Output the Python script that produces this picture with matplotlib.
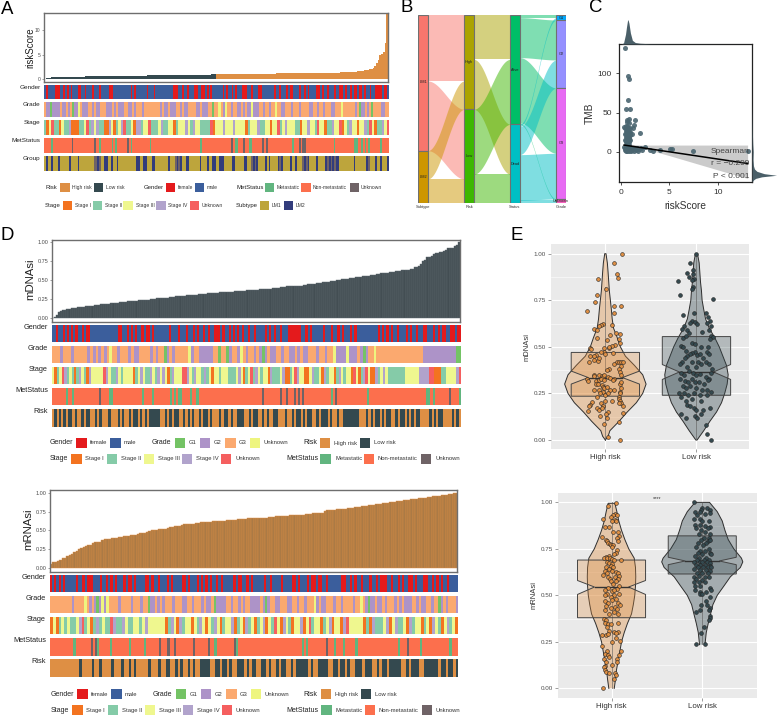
import numpy as np
import matplotlib
matplotlib.use("Agg")
import matplotlib.pyplot as plt
from matplotlib.colors import to_rgb
from matplotlib.patches import Rectangle, Polygon

plt.rcParams['font.family'] = ['Liberation Sans', 'DejaVu Sans']

W, H = 777, 717
ORANGE = '#DE8F44'
SLATE = '#34494F'

# panel A bars
risk_score_low = [.06,.15,.25,.3,.33,.35,.37,.38,.4,.41,.42,.43,.44,.45,.46,.46,.47,.48,.49,.5,
                  .5,.51,.52,.52,.53,.54,.54,.55,.56,.56,.57,.57,.58,.59,.59,.6,.6,.61,.61,.62,
                  .63,.63,.64,.64,.65,.65,.66,.66,.67,.67,.68,.68,.69,.69,.7,.7,.71,.71,.72,.72,
                  .73,.73,.74,.74,.75,.75,.76,.76,.77,.77,.78,.78,.79,.79,.8,.8,.81,.81,.82,.82,
                  .83,.83,.84,.85,.85,.86,.86,.87,.87,.88,.88,.89,.9,.9,.91,.92,.93,.94,.95,.96]
risk_score_high = [.97,.97,.98,.98,.99,.99,1,1,1,1.01,1.01,1.02,1.02,1.03,1.03,1.04,1.04,1.05,1.05,1.06,
                   1.06,1.07,1.07,1.08,1.08,1.09,1.09,1.1,1.1,1.11,1.11,1.12,1.12,1.13,1.13,1.14,1.14,1.15,1.15,1.16,
                   1.16,1.17,1.17,1.18,1.18,1.19,1.19,1.2,1.2,1.21,1.21,1.22,1.22,1.23,1.23,1.24,1.25,1.25,1.26,1.26,
                   1.27,1.27,1.28,1.29,1.29,1.3,1.31,1.31,1.32,1.33,1.33,1.34,1.35,1.35,1.36,1.37,1.38,1.39,1.4,
                   1.42,1.45,1.5,1.55,1.6,1.65,1.7,1.78,1.85,1.95,2.05,2.15,2.3,2.7,3.2,3.9,4.9,5.2,5.5,7.4,13.3]

# panel D bars
mdnasi = [0,.01,.04,.08,.09,.10,.11,.12,.125,.13,.13,.135,.14,.145,.15,.15,.155,.16,.16,.165,
          .17,.17,.175,.18,.18,.185,.19,.19,.195,.20,.20,.205,.21,.21,.215,.215,.22,.22,.225,.23,
          .23,.235,.235,.24,.24,.245,.245,.25,.25,.255,.26,.26,.265,.265,.27,.27,.275,.275,.28,.285,
          .285,.29,.29,.295,.30,.30,.305,.305,.31,.31,.315,.315,.32,.32,.325,.325,.33,.33,.335,.335,
          .34,.34,.345,.345,.35,.35,.35,.355,.355,.36,.36,.36,.36,.365,.365,.365,.37,.37,.375,.38,
          .38,.385,.385,.39,.39,.395,.395,.40,.40,.41,.415,.415,.42,.42,.42,.425,.425,.43,.43,.43,
          .435,.44,.445,.45,.45,.455,.46,.46,.465,.47,.47,.475,.48,.49,.49,.495,.50,.505,.51,.51,
          .515,.52,.525,.53,.535,.54,.54,.545,.55,.555,.56,.56,.565,.57,.575,.58,.585,.59,.595,.60,
          .60,.605,.61,.615,.62,.62,.625,.63,.635,.64,.64,.645,.65,.68,.68,.69,.72,.75,.77,.80,
          .81,.82,.84,.86,.86,.87,.87,.88,.90,.92,.92,.93,.95,.97,1.0]
mrnasi = [.05,.08,.08,.09,.11,.13,.14,.16,.18,.19,.21,.23,.25,.26,.28,.29,.30,.31,.33,.34,
          .345,.35,.37,.38,.385,.39,.395,.40,.405,.41,.415,.42,.425,.43,.44,.445,.445,.45,.46,.465,
          .47,.48,.49,.50,.51,.51,.515,.515,.52,.525,.53,.54,.55,.555,.56,.56,.57,.58,.585,.585,
          .59,.59,.595,.60,.605,.61,.61,.615,.615,.62,.625,.625,.63,.63,.63,.635,.635,.64,.64,.64,
          .645,.65,.65,.655,.66,.66,.66,.66,.665,.665,.67,.67,.67,.675,.68,.68,.685,.69,.69,.69,
          .695,.695,.70,.70,.70,.705,.705,.71,.71,.715,.72,.72,.725,.73,.73,.735,.735,.76,.765,.77,
          .775,.775,.78,.78,.785,.79,.79,.795,.80,.80,.805,.81,.81,.82,.825,.83,.835,.84,.84,.845,
          .85,.855,.86,.865,.87,.875,.875,.88,.885,.89,.895,.90,.90,.905,.91,.915,.92,.925,.93,.935,
          .935,.94,.945,.95,.955,.96,.96,.965,.97,.975,.98,.985,.99,1.0]

# heatmap tracks as runs: letter = category, number = columns
a_gender = "m1 f1 m4 f3 m2 f1 m1 f1 m1 f1 m3 f2 m2 f1 m3 f1 m3 f1 m5 f2 m10 f1 m1 f1 m6 f1 m3 f1 m10 f3 m2 f1 m2 f1 m3 f2 m2 f2 m1 f1 m1 f1 m6 f1 m1 f1 m2 f1 m1 f1 m3 f3 m2 f1 m3 f2 m7 f1 m2 f1 m3 f1 m1 f2 m3 f1 m2 f1 m1 f1 m4 f2 m1 f1 m2 f1 m3 f1 m2 f2 m1 f1 m2 f1 m1 f2 m1 f2 m1 f1 m2 f1 m2 f1 f3 m1 f2 m1"
a_grade = "r1 q2 p1 q4 r1 q2 r1 q1 r1 p1 q2 x1 r1 q3 r2 q1 r1 q2 r3 q3 r1 q1 r1 q2 q1 r2 q2 r1 q1 r3 q1 r8 q1 r1 q2 r1 q3 r2 q1 r1 q2 r4 q2 r1 q3 r2 p1 r2 x1 r1 q1 x1 r2 q1 r2 q2 r1 q1 r1 q2 x1 q3 r2 q1 r2 q1 r2 x1 r2 q2 r3 q1 r3 q1 r4 q2 r2 q1 r2 q1 r3 q2 r3 x1 r6 q1 r1 p1 q2 r1 q1 r1 p1 r4 q2 r2"
a_stage = "b1 a1 c1 x1 b2 a1 c1 b2 d1 a3 b2 c1 x1 b1 d1 c1 d1 b2 a2 d1 c1 a1 b1 c1 d1 x1 b2 c1 a1 d2 b1 c2 x1 b3 c1 d1 b2 c2 a1 b1 c3 d1 c1 b1 d1 c2 b4 x1 a1 c3 d1 c3 d1 c4 a1 b1 c3 d1 b2 c2 a1 c2 x1 b1 c1 d1 c3 b2 a1 c2 d1 c2 b1 x1 c2 a1 b2 d1 c2 x1 a1 c1 b1 d1 c2 a1 c2 d1 b1 x1 c1 a1 b2 d1 c1 x1"
a_met = "n4 e1 n11 u1 n12 u1 n2 e1 n6 e1 n1 e1 n6 u1 n1 e1 n10 e1 n28 e1 n17 u1 n1 e2 n3 u1 n2 e2 n6 u1 n1 u1 n14 e1 n3 u1 n1 u2 n16 e1 n11 e2 n2 e1 n1 e1 n1 e1 n6 e1 n4"
a_group = "a1 b1 a2 b1 a3 b1 a5 b1 a4 b1 a8 u2 b1 u1 a2 b2 a2 b1 a2 b1 a10 b2 a2 b2 a3 b2 a7 b1 a3 u1 b1 u1 b1 a2 b2 a6 b1 a3 b1 a2 b2 a2 b3 a4 b2 a5 b2 a2 u1 b1 u1 b1 a4 b1 a1 b1 a4 b1 u1 b1 a4 b1 a2 b1 a3 u1 b1 u1 b1 a4 b1 a4 b1 u1 b1 u1 b1 u1 b1 b1 a8 b1 a6 b1 u1 a3 b1 a2 b1 a3 b1"

d1_gender = "m2 f1 m2 f1 m1 f1 m1 f1 m1 f1 m2 f1 m1 f2 m13 f2 m2 f1 m1 f1 m1 f1 m2 f1 m1 f2 m1 f1 m7 f1 m3 f1 m3 f1 m2 f1 m1 f1 m2 f1 m1 f1 m2 f3 m1 f1 m2 f1 m1 f1 m1 f1 m1 f1 m2 f1 m2 f1 m4 f1 m1 f1 m1 f1 m2 f1 m3 f6 m2 f1 m1 f1 m5 f1 m3 f1 m2 f1 m1 f1 m3 f1 m1 f1 m10 f1 m1 f1 m1 f1 m1 f1 m2 f1 m3 f1 m1 f1 m2 f1 m2 f2 m3 f1 m1 f1 m1 f2 m2 f2 m1 f2"
d1_grade = "r3 q1 r3 q1 r5 q1 r1 q1 r1 q1 r1 q1 r1 x1 r2 q1 r3 q1 r1 q2 r4 q1 r1 q1 r2 p1 q1 r1 q1 r5 x1 q1 r2 q5 r2 p1 r2 p1 q1 r2 q1 x1 r1 q1 r2 q1 r1 q1 p1 q1 r1 q2 r2 q1 r2 q2 r1 q1 r1 q2 r3 q1 r2 q1 r2 x1 q4 x1 q3 r1 q1 p1 q1 r2 x1 r17 q12 p2"
d1_stage = "c1 a1 b1 c1 x1 d1 b1 c1 b1 a1 b1 d1 c1 b1 a1 d1 c5 x1 d1 c1 b2 d1 c1 b1 c4 a1 b1 c1 d1 c1 b2 d1 c1 b1 d1 c1 d1 c1 a1 b1 d1 c3 x2 d1 c1 b1 d1 c2 b1 d1 b1 c1 a1 c2 b1 c3 b3 c1 d1 c1 a1 b1 c1 x1 b1 d1 c1 b1 c2 a1 d1 b3 c1 d1 a2 b1 c1 x1 d1 c2 a2 c1 d1 b2 c1 a1 d1 b1 c2 a1 b1 d1 c1 b1 c2 a1 x1 c1 a1 b1 d1 x1 c1 a2 d1 b1 c1 d1 c1 b7 c6 d4 x2 a3 b2 c4 d1 x1"
d1_met = "n7 e1 n2 e1 n12 u1 n4 e2 n14 e1 n4 e1 n8 e1 n1 e1 n1 e2 n4 e1 n2 e1 n31 u1 n8 u1 n2 u1 n3 u1 n1 u1 n1 u1 n13 e1 n1 u1 n15 e1 n28 e2 n1 e1 n7 u1 n4 e1"
d1_risk = "h1 l1 h1 l1 h1 l1 h1 l2 h1 l1 h2 l1 h1 l2 h2 l1 h1 l1 h3 l1 h3 l1 h1 l1 h2 l1 h1 l2 h1 l1 h1 l1 h1 l5 h2 l1 h1 l1 h1 l2 h2 l1 h1 l1 h1 l1 h2 l1 h1 l2 h1 l1 h3 l1 h1 l2 h1 l1 h2 l3 h2 l1 h1 l2 h2 l1 h1 l1 h2 l2 h3 l1 h2 l1 h1 l2 h1 l1 h1 l2 h2 l1 h1 l3 h1 l1 h2 l1 h2 l7 h3 l1 h1 l1 h1 l2 h1 l1 h1 l2 h2 l1 h1 l2 h1 l1 h1 l1 h1 l2 h4 l1 h1 l1 h1 l2 h4 l1 h1 l1 h1"

d2_gender = "f1 m1 f1 m1 f1 m1 f1 m5 f1 m2 f1 m1 f3 m3 f1 m2 f1 m1 f1 m1 f1 m3 f1 m1 f2 m1 f1 m4 f2 m1 f1 m2 f1 m3 f1 m1 f1 m4 f2 m1 f1 m3 f1 m1 f1 m1 f1 m1 f1 m2 f1 m1 f1 m5 f1 m1 f2 m2 f1 m1 f1 m5 f1 m2 f1 m4 f1 m4 f2 m1 f1 m3 f1 m1 f2 m1 f2 m2 f1 m6 f2 m2 f1 m1 f1 m2 f1 m3 f1 m2 f1 m1 f3 m2 f1 m2 f1 m1 f1 m2 f2 m1 f1 m3 f2 m2 f1 m1 f1 m1 f1 m2 f1 m4"
d2_grade = "r9 q1 r4 x1 r1 q1 r1 q1 p1 q1 x1 q1 x1 r4 q1 r4 q1 r3 q1 r2 p1 q2 r1 q1 r1 q1 r3 q1 r3 q2 r2 q1 r3 q1 r1 q2 r1 p1 q4 r2 q1 r2 q1 r1 q1 r2 q4 r1 q1 p1 q1 r2 q2 r3 q2 r2 q1 r2 q1 r3 x1 q1 r1 q2 r3 q1 r2 q1 r4 q1 r2 x1 r1 q1 p1 q2 r1 q2 r1 q1 r3 q1 r1 q1 r1 q3 r2 q1 r1 q2 r2 q1 r2 p1 q1 r1 q1 r3 q1"
d2_stage = "a1 c1 a1 b1 c1 b1 c1 b2 c1 d1 x1 b1 c1 a1 b1 d1 b1 c1 b2 x1 d1 b2 d1 c1 b2 c2 b1 c1 d1 c6 a1 b1 d1 c1 a1 d1 b1 c2 a1 c1 b1 d1 c1 a1 c1 b1 d1 c1 a1 b1 c2 d1 a1 b1 c1 a1 d1 b1 c1 a1 b1 c1 d1 a1 c1 b1 x1 c1 a1 d1 c1 b1 a1 c2 d1 a1 c1 x1 b1 c2 a1 b1 c1 d1 a1 c2 a1 d1 x1 c5 a1 b1 a1 d1 b3 c1 d1 a1 c1 d1 b2 c1 a1 d1 b1 c2 a1 b1 c1 a1 d1 c1 b1 a1 c1 d1 b1 c1 a1"
d2_met = "n11 e1 n7 u1 n1 u1 e1 n5 e1 n8 e1 n6 e1 n6 u1 n3 u1 n2 u1 n8 u1 n6 u1 n2 e1 n8 u1 e1 n30 e1 n1 e1 n8 u1 n3 e1 n3 e1 n5 e1 n19 e1 n3 u1 n5 e1 n13 e1 n3"
d2_risk = "h12 l1 h4 l1 h2 l1 h4 l1 h3 l1 h2 l1 h1 l1 h5 l1 h3 l1 h2 l2 h2 l1 h1 l1 h2 l1 h1 l1 h2 l4 h2 l2 h1 l2 h1 l1 h2 l3 h1 l1 h1 l2 h2 l2 h1 l1 h2 l1 h1 l2 h2 l1 h1 l5 h1 l1 h2 l4 h2 l2 h1 l2 h1 l1 h2 l3 h1 l3 h2 l1 h1 l2 h1 l5 h2 l1 h1 l3 h2 l6 h1 l2 h1 l1 l1 h1 l1"

# panel B strata and flows, in stratum order
subtype_levels = ["LM1", "LM2"]
risk_levels = ["High", "Low"]
status_levels = ["Alive", "Dead"]
grade_levels = ["G1", "G2", "G3", "Unknown"]
flows_subtype_risk = [("LM1", "High", 197), ("LM1", "Low", 209), ("LM2", "High", 85), ("LM2", "Low", 73)]
flows_risk_status = [("High", "Alive", 132), ("High", "Dead", 150), ("Low", "Alive", 195), ("Low", "Dead", 87)]
flows_status_grade = [("Alive", "G1", 7), ("Alive", "G2", 120), ("Alive", "G3", 196), ("Alive", "Unknown", 4),
                      ("Dead", "G1", 7), ("Dead", "G2", 84), ("Dead", "G3", 137), ("Dead", "Unknown", 9)]

# panel C
tmb_x = [.4,.8,.85,.75,.5,1.0,.9,.7,1.5,.65,.85,1.4,.5,.6,.7,.35,.45,.55,.75,.95,1.25,.5,.6,.7,.8,.9,1.0,2.0,
         .4,.55,.65,.8,.95,1.2,.5,.6,.7,.75,.85,.9,.45,.55,.65,.75,.85,1.0,.5,.6,.7,.8,.9,.55,.65,.75,.85,
         .35,.4,.5,.55,.6,.65,.7,.8,.85,.9,.95,1.0,1.1,1.2,1.3,1.4,1.5,1.6,1.7,1.9,2.1,2.5,
         .4,.5,.6,.7,.8,.9,1.0,1.1,1.2,1.4,1.6,1.8,2.2,3.0,3.3,4.0,5.1,5.3,7.4,13.0]
tmb_y = [132,96,93,66,54,54,42,41,41,38,37,34,33,32,32,31,30,30,30,30,30,27,26,26,25,25,25,24,
         22,22,21,21,21,22,19,18,18,18,18,18,15,15,15,15,15,15,12,12,12,12,12,9,9,9,9,
         6,5,6,4,5,6,5,6,4,5,4,5,4,5,3,4,3,4,5,4,5,6,
         2,1,2,1,2,1,2,1,2,1,2,1,2,2,1,2,3,4,1,.5]
fit_x = [.35, 13]
fit_y = [8.5, -15]
band_x = [.35, 1, 2, 3, 5, 8, 11, 13]
band_lo = [6.5, 5.5, 4, 2, -5, -16, -27, -34]
band_hi = [10.5, 9.5, 8.5, 8.5, 8.5, 8.5, 8.5, 8.5]
risk_dens_x = [.1, .3, .5, .6, .7, .75, .85, 1.0, 1.2, 1.5, 2, 3, 5, 13]
risk_dens_y = [0, .05, .4, .7, .95, 1, .85, .45, .15, .06, .03, .01, .005, 0]
tmb_dens_y = [-38, -36, -34, -32, -30, -28, -25, -22, -18, -10, 0, 10, 20, 40, 60]
tmb_dens_x = [.02, .06, .15, .4, 1, .5, .2, .1, .06, .04, .05, .03, .02, .01, 0]

# panel E violins: value grid and half widths in category units
e1_high_vy = [0,.02,.05,.1,.15,.2,.25,.3,.35,.4,.45,.5,.55,.6,.65,.7,.75,.8,.85,.9,.95,1]
e1_high_vw = [0,.03,.05,.15,.24,.34,.41,.447,.41,.32,.22,.165,.13,.09,.075,.066,.055,.044,.037,.03,.022,.007]
e1_low_vy = [0,.05,.1,.15,.2,.25,.3,.35,.4,.45,.5,.55,.6,.65,.7,.75,.8,.85,.9,.95,1]
e1_low_vw = [.007,.08,.147,.22,.275,.31,.337,.348,.33,.29,.25,.2,.14,.1,.08,.062,.055,.044,.037,.03,.011]
e2_high_vy = [0,.05,.1,.15,.2,.25,.3,.35,.4,.45,.5,.55,.6,.65,.7,.75,.8,.85,.9,.95,.995]
e2_high_vw = [.03,.044,.055,.073,.092,.11,.14,.176,.22,.24,.256,.264,.267,.264,.25,.19,.147,.11,.08,.059,.037]
e2_low_vy = [.235,.3,.35,.4,.45,.5,.55,.6,.65,.68,.7,.75,.8,.85,.9,.95,1]
e2_low_vw = [.03,.044,.066,.092,.117,.165,.238,.31,.42,.447,.432,.348,.286,.25,.22,.165,.08]

# box stats: q1, notch low, median, notch high, q3, whisker low, whisker high
e1_high_box = [.235, .30, .335, .37, .47, 0, .82]
e1_low_box = [.24, .325, .365, .405, .555, 0, 1]
e2_high_box = [.38, .505, .545, .58, .69, 0, 1]
e2_low_box = [.615, .665, .685, .705, .82, .24, 1]

# jittered points: offset from category, value
e1_high_off = [.18,.10,.13,.14,-.08,.01,-.09,-.11,.09,.17,-.2,.09,-.03,-.05,-.07,-.12,-.09,.07,.12,.16,.05,-.09,.02,.15,.16,.11,.07,.04,-.17,-.16,-.02,.04,-.02,-.05,.08,0,-.1,-.13,-.17,-.13,-.18,-.08,-.07,.13,.15,.17,.19,.1,.17,.15,.04,.02,.16,.17,
               -.13,-.12,-.07,-.04,-.03,-.01,.03,.05,.1,-.2,-.19,-.1,-.07,-.05,-.02,.08,.16,.17,-.1,-.08,-.04,-.03,-.01,.02,.05,.1,.17,.16,-.13,-.07,-.03,-.06,-.09,0,.03,.07,.16,.15,.15,.16,.17,.19,.15,0,-.05,-.03,-.15,-.17,-.18,-.09,-.07,-.04,-.19,.03,.01,.19,-.06,.02,.15,-.01,.03,.16]
e1_high_val = [1,.95,.89,.87,.865,.81,.78,.74,.72,.72,.69,.68,.62,.615,.61,.595,.59,.615,.575,.57,.565,.55,.535,.54,.52,.51,.505,.495,.495,.49,.495,.5,.47,.47,.465,.46,.455,.45,.45,.43,.42,.425,.44,.42,.42,.42,.42,.41,.395,.38,.38,.375,.365,.35,
               .35,.345,.35,.345,.34,.35,.34,.335,.325,.325,.315,.315,.32,.33,.32,.32,.3,.31,.3,.3,.295,.285,.28,.285,.27,.27,.28,.26,.27,.27,.26,.25,.23,.24,.25,.21,.25,.23,.22,.21,.2,.18,.2,.21,.2,.18,.205,.19,.18,.17,.16,.17,.155,.15,.14,.145,.13,.12,.095,.085,.015,0]
e1_low_off = [0,-.07,-.04,-.1,-.04,-.2,-.08,-.03,-.05,-.04,-.05,-.18,.18,-.15,-.03,.11,.13,.15,.12,-.05,-.02,-.07,.01,-.14,-.16,-.1,.16,.14,.06,-.08,.16,.18,.15,-.15,-.12,-.05,-.02,-.17,-.15,-.12,.05,.13,.12,.14,-.02,-.05,-.07,.01,.04,-.1,-.13,.07,-.16,-.18,-.05,.02,.05,.1,.14,-.1,0,.17,.16,-.17,-.14,-.08,-.04,-.01,.04,.11,.14,.13,-.18,-.13,-.09,-.05,-.02,.03,.08,-.15,-.11,-.07,-.01,.06,.12,.16,-.19,-.14,-.09,-.03,.04,.12,-.17,-.12,-.05,.05,-.1,-.07,-.03,0,.07,.15,.05,-.17,-.12,-.02,.01,.1,.12,.16]
e1_low_val = [1,.95,.91,.895,.89,.855,.875,.865,.86,.82,.81,.78,.755,.67,.68,.68,.66,.64,.63,.64,.635,.63,.625,.61,.595,.59,.61,.59,.58,.575,.56,.555,.54,.55,.56,.52,.515,.505,.5,.48,.5,.5,.47,.46,.47,.465,.46,.455,.46,.45,.44,.44,.42,.41,.42,.42,.41,.42,.41,.39,.39,.38,.36,.36,.35,.37,.36,.35,.355,.34,.33,.32,.33,.315,.31,.33,.31,.31,.3,.29,.28,.29,.28,.27,.27,.26,.25,.25,.24,.25,.24,.24,.23,.21,.22,.21,.19,.18,.17,.16,.16,.17,.14,.14,.12,.13,.12,.08,.03,0]
e2_high_off = [.05,-.04,.04,.02,.06,-.01,-.09,.04,0,.05,-.07,-.03,.02,.07,.08,.06,-.1,-.06,-.05,.07,-.04,-.02,-.01,.02,0,.06,.05,.03,-.03,-.06,-.08,-.05,-.02,0,.03,.1,-.05,-.03,.01,-.01,-.06,.02,-.03,-.07,-.05,0,.05,.07,-.09,-.04,.04,.08,-.02,.07,.05,-.01,.02,.08,-.04,.06,-.07,0,.03,-.05,-.07,.03,.08,-.01,.05,.01,-.07,-.04,.07,.09,-.06,.04,-.01,.06,-.07,.03,.07,-.03,-.08,-.06,-.07,-.04,-.01,.07,-.05,-.03,.03,.07,.05,-.1,-.06,-.04,.05,.09,.01,-.1,.1,-.05,-.07,-.04,.08,-.03,.06,-.08,-.06,.06,.01,-.07,-.08,-.07,-.06,-.03,.04,.05,.03,-.09]
e2_high_val = [.995,.98,.94,.93,.93,.92,.91,.905,.9,.9,.87,.87,.84,.84,.82,.81,.815,.8,.795,.79,.78,.775,.77,.77,.76,.745,.73,.72,.71,.705,.7,.7,.7,.695,.69,.69,.68,.675,.67,.66,.65,.65,.64,.63,.62,.63,.625,.62,.61,.6,.6,.605,.59,.59,.575,.575,.56,.55,.54,.535,.53,.525,.53,.51,.5,.5,.505,.49,.48,.475,.47,.46,.46,.45,.445,.44,.43,.425,.42,.41,.4,.4,.375,.365,.35,.345,.345,.35,.33,.31,.305,.305,.3,.285,.285,.29,.27,.255,.25,.23,.2,.2,.185,.18,.18,.17,.16,.16,.14,.14,.125,.12,.115,.1,.09,.085,.085,.07,.05,0]
e2_low_off = [-.09,0,-.01,.05,.09,.08,.03,-.03,-.08,-.06,-.09,-.03,0,.07,-.08,-.02,.03,.08,-.07,.06,-.01,.03,-.04,.08,.07,.02,-.01,.06,.09,-.05,.04,.01,-.07,.07,-.02,.03,-.05,.08,0,.1,-.08,-.04,.04,-.06,.02,.07,-.09,-.03,0,.05,.09,-.07,-.02,.03,.08,-.05,.01,.06,.1,-.09,-.03,.04,.08,-.06,0,.06,-.09,-.04,.03,.07,-.07,0,-.09,-.04,.03,-.08,-.03,-.08,.08,-.02,.1,-.03,0,.04,.04,.09,-.01,.05,.09,-.03,-.07,.07,.08,.08,.07,.02,-.01,-.07,.03]
e2_low_val = [1,.97,.96,.97,.96,.945,.94,.95,.95,.93,.91,.91,.9,.9,.88,.88,.875,.87,.86,.86,.85,.84,.83,.83,.81,.81,.8,.79,.8,.78,.78,.77,.76,.75,.74,.74,.73,.73,.72,.72,.71,.7,.7,.69,.69,.69,.68,.68,.68,.68,.675,.665,.665,.665,.66,.65,.65,.65,.65,.64,.635,.635,.63,.62,.62,.62,.6,.605,.6,.6,.59,.585,.57,.57,.57,.55,.55,.53,.54,.52,.53,.51,.51,.52,.47,.49,.45,.45,.43,.42,.41,.42,.39,.38,.37,.33,.3,.24,.24]

# palettes
gender_pal = {'f': '#E41A1C', 'm': '#3B5E9C'}
grade_pal = {'p': '#74C365', 'q': '#AD93C8', 'r': '#FBA96F', 'x': '#EEF57F'}
stage_pal = {'a': '#F37320', 'b': '#85CBA8', 'c': '#EFF78F', 'd': '#B1A3CC', 'x': '#F55F5F'}
met_pal = {'e': '#61B57F', 'n': '#FC6F4D', 'u': '#6F6366'}
risk_pal = {'h': ORANGE, 'l': SLATE}
group_pal = {'a': '#BDA53C', 'b': '#323C7C', 'u': '#6F6366'}
alluvial_pal = {"LM1": '#F8766D', "LM2": '#CD9600', "High": '#ABA300', "Low": '#3DB700', "Alive": '#00BE67',
                "Dead": '#00BFC4', "G1": '#00A9FF', "G2": '#9590FF', "G3": '#E76BF3', "Unknown": '#FF61C3'}

fig = plt.figure(figsize=(W / 100, H / 100), dpi=100)


def px_axes(x0, y0, x1, y1, **kw):
    return fig.add_axes([x0 / W, 1 - y1 / H, (x1 - x0) / W, (y1 - y0) / H], **kw)


def px_text(x, y, s, **kw):
    kw.setdefault('va', 'center')
    fig.text(x / W, 1 - y / H, s, **kw)


def expand_runs(runs):
    cols = []
    for token in runs.split():
        cols += [token[0]] * int(token[1:])
    return cols


def draw_track(box, runs, palette, label, label_x, fs):
    ax = px_axes(*box)
    colors = [to_rgb(palette[c]) for c in expand_runs(runs)]
    ax.imshow([colors], aspect='auto', interpolation='nearest')
    ax.axis('off')
    px_text(label_x, box[1] + 2.5, label, ha='right', fontsize=fs, color='#222222')


def bar_panel(box, values, colors, edge, ylim, ticks, ticklabels, ylabel, ylabel_x, ylabel_fs, tick_fs, ylabel_dy=-2):
    ax = px_axes(*box)
    ax.bar(np.arange(len(values)), values, width=1.0, color=colors, edgecolor=edge, linewidth=0.3)
    ax.set_xlim(-0.5, len(values) - 0.5)
    ax.set_ylim(*ylim)
    ax.set_xticks([])
    ax.set_yticks(ticks)
    ax.set_yticklabels(ticklabels, fontsize=tick_fs, color='#4D4D4D')
    ax.tick_params(axis='y', length=1.5, width=0.4, pad=1, color='#555555')
    for s in ax.spines.values():
        s.set_color('#6E6E6E')
        s.set_linewidth(1.0)
    px_text(ylabel_x, (box[1] + box[3]) / 2 + ylabel_dy, ylabel, rotation=90, ha='center', fontsize=ylabel_fs, color='#222222')


def legend_row(y, items, sw_h, title_fs, label_fs, dx=0.0):
    # items: ('t', x, text) or ('s', x0, x1, color, label, label_x)
    for it in items:
        if it[0] == 't':
            px_text(it[1] + dx, y, it[2], ha='left', fontsize=title_fs, color='#222222')
        else:
            fig.patches.append(Rectangle(((it[1] + dx) / W, 1 - (y + sw_h / 2) / H), (it[2] - it[1]) / W, sw_h / H,
                                         transform=fig.transFigure, facecolor=it[3], edgecolor='none'))
            px_text(it[5] + dx, y, it[4], ha='left', fontsize=label_fs, color='#333333')


# ---- panel A
bar_panel((44, 13, 388, 82), risk_score_low + risk_score_high,
          [SLATE] * len(risk_score_low) + [ORANGE] * len(risk_score_high), 'none',
          (-0.6, 13.5), [0, 5, 10], ['0', '5', '10'], 'riskScore', 30, 7, 3.6, ylabel_dy=0)
a_boxes = [(85, 99), (102, 117), (120, 135), (138, 153), (156, 171)]
a_tracks = [(a_gender, gender_pal, 'Gender'), (a_grade, grade_pal, 'Grade'), (a_stage, stage_pal, 'Stage'),
            (a_met, met_pal, 'MetStatus'), (a_group, group_pal, 'Group')]
for (t, b), (runs, pal, name) in zip(a_boxes, a_tracks):
    draw_track((44, t, 389, b), runs, pal, name, 40.7, 4.6)

legend_row(187.7, [('t', 46, 'Risk'), ('s', 60, 70, ORANGE, 'High risk', 72), ('s', 94, 103, SLATE, 'Low risk', 106),
                   ('t', 144, 'Gender'), ('s', 166, 175, gender_pal['f'], 'female', 178),
                   ('s', 195, 204, gender_pal['m'], 'male', 207),
                   ('t', 236, 'MetStatus'), ('s', 265, 274, met_pal['e'], 'Metastatic', 277),
                   ('s', 301, 311, met_pal['n'], 'Non-metastatic', 313), ('s', 350, 359, met_pal['u'], 'Unknown', 361)],
           9.3, 4.3, 3.6)
legend_row(205.7, [('t', 45, 'Stage'), ('s', 63, 72, stage_pal['a'], 'Stage I', 75), ('s', 93, 102, stage_pal['b'], 'Stage II', 105),
                   ('s', 123, 133, stage_pal['c'], 'Stage III', 136), ('s', 156, 166, stage_pal['d'], 'Stage IV', 168),
                   ('s', 190, 199, stage_pal['x'], 'Unknown', 202),
                   ('t', 236, 'Subtype'), ('s', 260, 269, group_pal['a'], 'LM1', 272), ('s', 284, 293, group_pal['b'], 'LM2', 296)],
           9.3, 4.3, 3.6)

# ---- panel B
axb = px_axes(418, 15.3, 566, 203.3)
axb.set_xlim(-0.109, 3.109)
axb.set_ylim(564, 0)
axb.axis('off')
stratum_w = 0.2
levels = [subtype_levels, risk_levels, status_levels, grade_levels]
flow_sets = [flows_subtype_risk, flows_risk_status, flows_status_grade]
totals = []
for i, fl in enumerate(flow_sets):
    if i == 0:
        totals.append({k: sum(f[2] for f in fl if f[0] == k) for k in levels[0]})
    totals.append({k: sum(f[2] for f in fl if f[1] == k) for k in levels[i + 1]})

tops = []
for lev, tot in zip(levels, totals):
    y = 0
    t = {}
    for k in lev:
        t[k] = y
        y += tot[k]
    tops.append(t)

for i, fl in enumerate(flow_sets):
    left_y = dict(tops[i])
    right_y = dict(tops[i + 1])
    for a, b, n in fl:
        xs = np.linspace(i + stratum_w / 2, i + 1 - stratum_w / 2, 40)
        s = 0.5 - 0.5 * np.cos((xs - xs[0]) / (xs[-1] - xs[0]) * np.pi)
        upper = left_y[a] + (right_y[b] - left_y[a]) * s
        axb.fill_between(xs, upper, upper + n, color=alluvial_pal[a], alpha=0.5, linewidth=0)
        left_y[a] += n
        right_y[b] += n

for i, (lev, tot) in enumerate(zip(levels, totals)):
    for k in lev:
        axb.add_patch(Rectangle((i - stratum_w / 2, tops[i][k]), stratum_w, tot[k], facecolor=alluvial_pal[k],
                                edgecolor='#707070', linewidth=0.8))
        axb.text(i, tops[i][k] + tot[k] / 2 + (0 if k != 'LM1' else -2), k, ha='center', va='center', fontsize=2.8, color='#222222')
for i, name in enumerate(["Subtype", "Risk", "Status", "Grade"]):
    axb.text(i, 575, name, ha='center', va='center', fontsize=2.9, color='#333333', clip_on=False)

# ---- panel C
axc = px_axes(618.7, 44, 752, 182)
axc.fill_between(band_x, band_lo, band_hi, color='#BEBEBE', alpha=0.8, linewidth=0, zorder=1)
axc.scatter(tmb_x, tmb_y, s=13, color='#4A6570', alpha=0.9, linewidths=0, zorder=2)
axc.plot(fit_x, fit_y, color='black', lw=1.1, zorder=3)
axc.set_xlim(-0.2, 13.45)
axc.set_ylim(-38.6, 137.4)
axc.set_xticks([0, 5, 10])
axc.set_yticks([0, 50, 100])
axc.tick_params(labelsize=6, length=2, width=0.6, pad=3, colors='#333333')
axc.set_xlabel('riskScore', fontsize=7.3, labelpad=3.5, color='#333333')
axc.set_ylabel('TMB', fontsize=7.3, labelpad=2, color='#333333')
for s in axc.spines.values():
    s.set_linewidth(0.9)
    s.set_color('#222222')
for lab, yy in zip(['Spearman', 'r = \u22120.299', 'P < 0.001'], [0.5, -15.5, -32]):
    axc.text(13.15, yy, lab, ha='right', va='center', fontsize=6, color='#444444', zorder=4)

axt = px_axes(618.7, 19, 752, 44)
axt.fill_between(risk_dens_x, 0, risk_dens_y, color='#4A5F68', linewidth=0)
axt.set_xlim(-0.2, 13.45)
axt.set_ylim(0, 1.02)
axt.axis('off')
axr = px_axes(752, 44, 777, 182)
axr.fill_betweenx(tmb_dens_y, 0, tmb_dens_x, color='#4A5F68', linewidth=0)
axr.set_ylim(-38.6, 137.4)
axr.set_xlim(0, 1.02)
axr.axis('off')

# ---- panel D
d_tracks = [(325, 342), (346, 363.3), (367, 384.5), (388, 405.5), (409, 426.8)]
draw_sets = [(d1_gender, gender_pal, 'Gender'), (d1_grade, grade_pal, 'Grade'), (d1_stage, stage_pal, 'Stage'),
             (d1_met, met_pal, 'MetStatus'), (d1_risk, risk_pal, 'Risk')]
bar_panel((51.7, 239.7, 460, 321.7), mdnasi, '#434E53', '#5C686E', (-0.048, 1.035),
          [0, .25, .5, .75, 1], ['0.00', '0.25', '0.50', '0.75', '1.00'], 'mDNAsi', 30.7, 8.2, 4)
for (t, b), (runs, pal, name) in zip(d_tracks, draw_sets):
    draw_track((51.7, t, 460, b), runs, pal, name, 48, 5.3)

bar_panel((50, 489.7, 457.3, 571.7), mrnasi, '#AB7A45', ORANGE, (-0.048, 1.04),
          [0, .25, .5, .75, 1], ['0.00', '0.25', '0.50', '0.75', '1.00'], 'mRNAsi', 28.5, 8.2, 4)
draw_sets2 = [(d2_gender, gender_pal, 'Gender'), (d2_grade, grade_pal, 'Grade'), (d2_stage, stage_pal, 'Stage'),
              (d2_met, met_pal, 'MetStatus'), (d2_risk, risk_pal, 'Risk')]
for (t, b), (runs, pal, name) in zip(d_tracks, draw_sets2):
    draw_track((50, t + 250, 457.3, b + 250), runs, pal, name, 46, 5.3)

for y1, y2, dx in [(443, 459, 0.0), (694.3, 710.3, 0.7)]:
    legend_row(y1, [('t', 50, 'Gender'), ('s', 76, 87, gender_pal['f'], 'female', 90), ('s', 110, 121, gender_pal['m'], 'male', 124),
                    ('t', 152, 'Grade'), ('s', 175, 185, grade_pal['p'], 'G1', 189), ('s', 200, 210, grade_pal['q'], 'G2', 214),
                    ('s', 225, 236, grade_pal['r'], 'G3', 239), ('s', 250, 260, grade_pal['x'], 'Unknown', 264),
                    ('t', 303, 'Risk'), ('s', 320, 330, ORANGE, 'High risk', 334), ('s', 360, 370, SLATE, 'Low risk', 374)],
               10.3, 5, 4.2, dx)
    legend_row(y2, [('t', 50, 'Stage'), ('s', 71, 82, stage_pal['a'], 'Stage I', 85), ('s', 107, 117, stage_pal['b'], 'Stage II', 121),
                    ('s', 144, 154, stage_pal['c'], 'Stage III', 158), ('s', 182, 192, stage_pal['d'], 'Stage IV', 196),
                    ('s', 221, 231, stage_pal['x'], 'Unknown', 235),
                    ('t', 286, 'MetStatus'), ('s', 320, 331, met_pal['e'], 'Metastatic', 335),
                    ('s', 364, 374, met_pal['n'], 'Non-metastatic', 378), ('s', 421, 431, met_pal['u'], 'Unknown', 435)],
               10.3, 5, 4.2, dx)


# ---- panel E
def notch_poly(c, stats, w=0.375):
    q1, nl, med, nh, q3 = stats[:5]
    return [(c - w, q1), (c + w, q1), (c + w, nl), (c + w / 2, med), (c + w, nh), (c + w, q3),
            (c - w, q3), (c - w, nh), (c - w / 2, med), (c - w, nl)]


def violin_panel(box, ylabel, ylabel_x, groups, ylim, xlim):
    ax = px_axes(*box)
    ax.set_facecolor('#EAEAEA')
    ax.set_axisbelow(True)
    ax.grid(True, axis='both', which='major', color='white', lw=0.8)
    ax.set_yticks([.125, .375, .625, .875], minor=True)
    ax.grid(True, axis='y', which='minor', color='white', lw=0.4)
    ax.tick_params(axis='y', which='minor', length=0)
    for c, (vy, vw, stats, off, val, col) in enumerate(groups, start=1):
        vw = np.array(vw)
        ax.fill_betweenx(vy, c - vw, c + vw, facecolor=col, alpha=0.38, edgecolor='none', zorder=2)
        ax.plot(np.r_[c - vw, (c + vw)[::-1]], np.r_[vy, vy[::-1]], color='#2E2E2E', lw=0.7, zorder=3)
        ax.plot([c, c], [stats[5], stats[1]], color='#555555', lw=0.6, alpha=0.7, zorder=3)
        ax.plot([c, c], [stats[3], stats[6]], color='#555555', lw=0.6, alpha=0.7, zorder=3)
        ax.add_patch(Polygon(notch_poly(c, stats), closed=True, facecolor=col, alpha=0.3, edgecolor='none', zorder=3))
        ax.add_patch(Polygon(notch_poly(c, stats), closed=True, fill=False, edgecolor='#444444', lw=0.7, zorder=4))
        ax.plot([c - .1875, c + .1875], [stats[2]] * 2, color='#333333', lw=1.0, zorder=4)
        ax.scatter(c + np.array(off), val, s=7.5, color=col, edgecolors='#222222', linewidths=0.4, zorder=5)
    ax.set_xlim(*xlim)
    ax.set_ylim(*ylim)
    ax.set_xticks([1, 2])
    ax.set_xticklabels(['High risk', 'Low risk'], fontsize=5.7, color='#333333')
    ax.set_yticks([0, .25, .5, .75, 1])
    ax.set_yticklabels(['0.00', '0.25', '0.50', '0.75', '1.00'], fontsize=4.5, color='#4D4D4D')
    ax.tick_params(axis='both', which='major', length=2, width=0.4, pad=1.5, color='#555555')
    for s in ax.spines.values():
        s.set_visible(False)
    px_text(ylabel_x, (box[1] + box[3]) / 2, ylabel, rotation=90, ha='center', fontsize=5.5, color='#333333')
    return ax


violin_panel((550.7, 244, 749.3, 449.3), 'mDNAsi', 527,
             [(e1_high_vy, e1_high_vw, e1_high_box, e1_high_off, e1_high_val, ORANGE),
              (e1_low_vy, e1_low_vw, e1_low_box, e1_low_off, e1_low_val, SLATE)],
             (-0.05, 1.052), (0.4, 2.58))
ax_e2 = violin_panel((558, 492.7, 756.7, 697.7), 'mRNAsi', 534,
                     [(e2_high_vy, e2_high_vw, e2_high_box, e2_high_off, e2_high_val, ORANGE),
                      (e2_low_vy, e2_low_vw, e2_low_box, e2_low_off, e2_low_val, SLATE)],
                     (-0.05, 1.052), (0.41, 2.6))
ax_e2.text(1.5, 1.02, '****', ha='center', va='center', fontsize=4, color='#333333', zorder=6)

# panel letters
for x, y, s in [(1, 9, 'A'), (400.7, 8, 'B'), (589, 8, 'C'), (0, 236, 'D'), (510.7, 235, 'E')]:
    px_text(x, y, s, ha='left', fontsize=13.4, color='black')

fig.savefig('out.png', dpi=100)
